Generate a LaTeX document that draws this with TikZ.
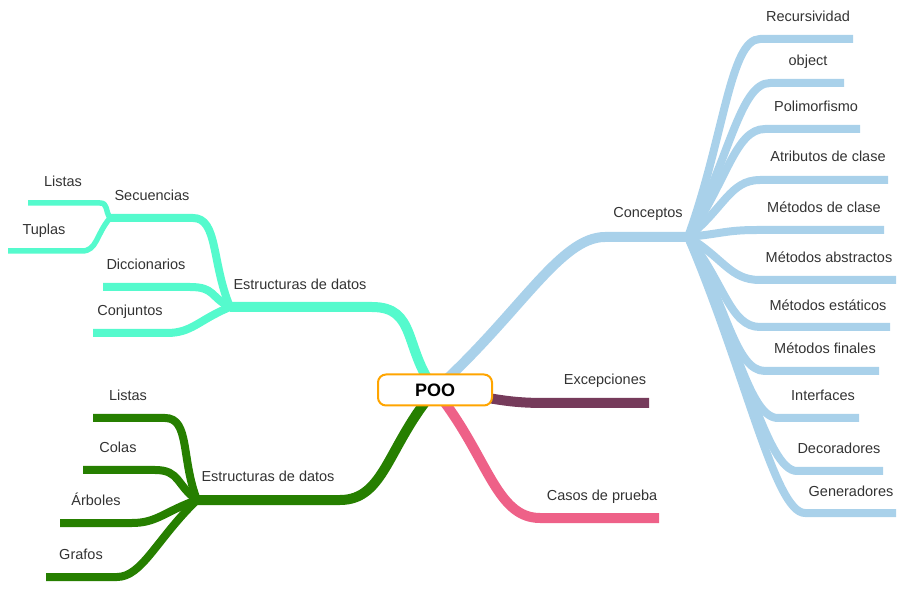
\documentclass[tikz,border=0pt]{standalone}
\usepackage{fontspec}
\setmainfont{Liberation Sans}
\usetikzlibrary{calc}
\definecolor{cBlue}{HTML}{A9D1EA}
\definecolor{cTeal}{HTML}{55FACD}
\definecolor{cGreen}{HTML}{267F00}
\definecolor{cPurple}{HTML}{763B5B}
\definecolor{cPink}{HTML}{EE6188}
\definecolor{cOrange}{HTML}{FFA500}
\definecolor{txtgray}{HTML}{333333}
\pgfdeclarelayer{bg}
\pgfsetlayers{bg,main}
\tikzset{
  lbl/.style={font=\fontsize{14.5}{16}\selectfont, text=txtgray, inner sep=0pt, text height=10.5pt, text depth=0pt},
  mainw/.style={line width=10pt, line join=round},
  childw/.style={line width=8pt, line join=round},
  subw/.style={line width=5.5pt, line join=round},
  rootbox/.style={draw=cOrange, line width=2pt, fill=white, rounded corners=8pt, minimum width=114pt, minimum height=31pt, inner sep=0pt, font=\bfseries\fontsize{18}{20}\selectfont, text=black}
}
% style, hub, start of straight part, end, signed offset of second control point
\newcommand\mmbranch[5]{%
  \draw[#1] (#2) .. controls ($(#2)!0.5!(#3)$) and ($(#3)+(#5,0)$) .. (#3) -- (#4);}
\begin{document}
\begin{tikzpicture}[x=1pt,y=-1pt]
\useasboundingbox (0,0) rectangle (908,609);
\node[rootbox] (poo) at (435,390) {POO};

% hubs
\coordinate (hC) at (688,237);
\coordinate (hT) at (230,307);
\coordinate (hS) at (110,218);
\coordinate (hG) at (197,500);

% main branch points
\coordinate (sC) at (605,237);
\coordinate (sT) at (372,307);
\coordinate (sG) at (340,500);
\coordinate (sX) at (545,403); \coordinate (eX) at (649,403);
\coordinate (sP) at (540,518); \coordinate (eP) at (659,518);

% Conceptos children
\coordinate (s1) at (760,39);  \coordinate (e1) at (853,39);
\coordinate (s2) at (770,83);  \coordinate (e2) at (844,83);
\coordinate (s3) at (765,129); \coordinate (e3) at (860,129);
\coordinate (s4) at (760,180); \coordinate (e4) at (888,180);
\coordinate (s5) at (757,230); \coordinate (e5) at (884,230);
\coordinate (s6) at (760,280); \coordinate (e6) at (896,280);
\coordinate (s7) at (760,327); \coordinate (e7) at (890,327);
\coordinate (s8) at (765,371); \coordinate (e8) at (879,371);
\coordinate (s9) at (778,418); \coordinate (e9) at (859,418);
\coordinate (s10) at (797,471); \coordinate (e10) at (883,471);
\coordinate (s11) at (805,513); \coordinate (e11) at (896,513);

% teal children
\coordinate (tSs) at (193,218);
\coordinate (tDs) at (190,287); \coordinate (tDe) at (103,287);
\coordinate (tCs) at (167,333); \coordinate (tCe) at (93,333);
\coordinate (tLs) at (100,203); \coordinate (tLe) at (28,203);
\coordinate (tTs) at (82,251);  \coordinate (tTe) at (8,251);

% green children
\coordinate (g1s) at (165,418); \coordinate (g1e) at (93,418);
\coordinate (g2s) at (155,470); \coordinate (g2e) at (83,470);
\coordinate (g3s) at (132,523); \coordinate (g3e) at (60,523);
\coordinate (g4s) at (117,577); \coordinate (g4e) at (46,577);

\begin{pgfonlayer}{bg}
  % main branches
  \mmbranch{mainw,cBlue}{poo.center}{sC}{hC}{-45}
  \mmbranch{mainw,cTeal}{poo.center}{sT}{hT}{45}
  \mmbranch{mainw,cGreen}{poo.center}{sG}{hG}{45}
  \mmbranch{mainw,cPurple}{poo.center}{sX}{eX}{-45}
  \mmbranch{mainw,cPink}{poo.center}{sP}{eP}{-45}
  % Conceptos
  \foreach \i in {1,...,11}{\mmbranch{childw,cBlue}{hC}{s\i}{e\i}{-30}}
  % teal
  \mmbranch{childw,cTeal}{hT}{tSs}{hS}{25}
  \mmbranch{childw,cTeal}{hT}{tDs}{tDe}{25}
  \mmbranch{childw,cTeal}{hT}{tCs}{tCe}{25}
  \mmbranch{subw,cTeal}{hS}{tLs}{tLe}{8}
  \mmbranch{subw,cTeal}{hS}{tTs}{tTe}{15}
  % green
  \mmbranch{childw,cGreen}{hG}{g1s}{g1e}{25}
  \mmbranch{childw,cGreen}{hG}{g2s}{g2e}{25}
  \mmbranch{childw,cGreen}{hG}{g3s}{g3e}{25}
  \mmbranch{childw,cGreen}{hG}{g4s}{g4e}{25}
\end{pgfonlayer}

% labels
\node[lbl] (lC) at (648,212) {Conceptos};
\node[lbl] (lX) at (605,379) {Excepciones};
\node[lbl] (lP) at (602,495) {Casos de prueba};
\node[lbl] (l1) at (808,16) {Recursividad};
\node[lbl] (l2) at (808,60) {object};
\node[lbl] (l3) at (816,106) {Polimorfismo};
\node[lbl] (l4) at (828,156) {Atributos de clase};
\node[lbl] (l5) at (824,207) {Métodos de clase};
\node[lbl] (l6) at (829,257) {Métodos abstractos};
\node[lbl] (l7) at (828,305) {Métodos estáticos};
\node[lbl] (l8) at (825,348) {Métodos finales};
\node[lbl] (l9) at (823,395) {Interfaces};
\node[lbl] (l10) at (839,448) {Decoradores};
\node[lbl] (l11) at (851,491) {Generadores};

\node[lbl] (lT) at (300,284) {Estructuras de datos};
\node[lbl] (lTS) at (152,195) {Secuencias};
\node[lbl] (lTD) at (146,264) {Diccionarios};
\node[lbl] (lTC) at (130,310) {Conjuntos};
\node[lbl] (lTL) at (63,181) {Listas};
\node[lbl] (lTT) at (44,229) {Tuplas};

\node[lbl] (lG) at (268,476) {Estructuras de datos};
\node[lbl] (lG1) at (128,395) {Listas};
\node[lbl] (lG2) at (118,447) {Colas};
\node[lbl] (lG3) at (96,500) {Árboles};
\node[lbl] (lG4) at (81,554) {Grafos};
\end{tikzpicture}
\end{document}
